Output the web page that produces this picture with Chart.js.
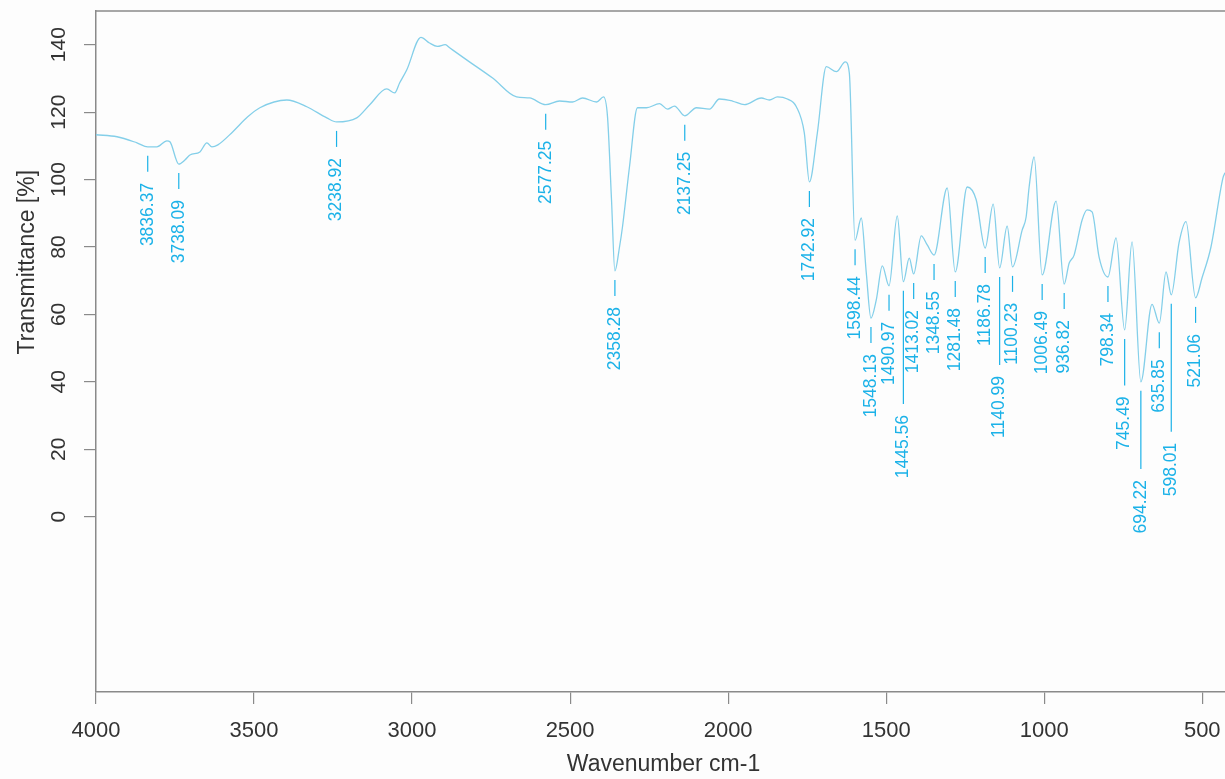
<!DOCTYPE html>
<html>
<head>
<meta charset="utf-8">
<script src="https://cdn.jsdelivr.net/npm/chart.js@4.4.1/dist/chart.umd.min.js"></script>
<style>
  html, body { margin: 0; padding: 0; background: #fdfdfd; }
  #wrap { width: 1225px; height: 779px; }
</style>
</head>
<body>
<div id="wrap"><canvas id="c" width="1225" height="779"></canvas></div>
<script>
// ---- data ----
const wavenumbers = [
  4000, 3933.6, 3870.4, 3836.37, 3807.2, 3775.6, 3766.1, 3738.09, 3718.7, 3702.9,
  3671.3, 3649.1, 3633.3, 3614.4, 3567.0, 3520, 3481.6, 3396.3, 3333.0, 3269.8,
  3238.92, 3175.0, 3133.9, 3080.2, 3054.9, 3039.1, 3017.0, 2972, 2945, 2920,
  2895, 2880, 2827.3, 2745.1, 2669.3, 2628.2, 2577.25, 2533.3, 2492.2, 2460.6,
  2416.3, 2394.2, 2381.6, 2369.0, 2358.28, 2343.7, 2334.2, 2312.1, 2286.8, 2258.3,
  2217.2, 2191.9, 2169.8, 2137.25, 2100.3, 2059.2, 2027.6, 1986.5, 1948.5, 1894.8,
  1869.5, 1844.2, 1812.6, 1784.2, 1758.9, 1742.92, 1717.8, 1689.4, 1657.7, 1629.3,
  1616.6, 1598.44, 1578.7, 1562.9, 1548.13, 1531.3, 1512.3, 1490.97, 1464.9, 1445.56,
  1427.0, 1413.02, 1389.0, 1370.1, 1348.55, 1306.9, 1281.48, 1243.6, 1215.2, 1186.78,
  1161.4, 1140.99, 1117.2, 1100.23, 1069.8, 1057.2, 1047.7, 1031.9, 1006.49, 962.3,
  936.82, 921.2, 905.4, 880.1, 864.3, 848.5, 826.4, 798.34, 772.7, 745.49,
  722.1, 694.22, 658.9, 635.85, 614.6, 598.01, 573.5, 551.4, 521.06, 500.8,
  472.4, 434.4, 428
];
const transmittance = [
  113.3, 112.7, 110.9, 109.7, 109.7, 111.5, 111.2, 104.6, 105.8, 107.3,
  108.2, 110.9, 109.7, 110.3, 114.2, 118.6, 121.3, 123.6, 121.6, 118.3,
  117.1, 118.3, 122.2, 126.9, 125.7, 128.7, 132.5, 142.2, 140.5, 139.5,
  140.0, 139.0, 135.5, 130.1, 124.5, 124.2, 122.2, 123.3, 123.0, 124.2,
  123.0, 124.5, 118.6, 94.0, 72.9, 80.0, 86.0, 103.8, 121.3, 121.3,
  122.5, 120.9, 121.8, 118.9, 121.3, 120.9, 123.9, 123.3, 122.2, 124.2,
  123.6, 124.5, 123.9, 121.6, 113.8, 99.3, 113.8, 133.5, 132.0, 134.9,
  131.6, 82.0, 88.6, 72.3, 58.9, 64.3, 74.4, 68.5, 89.2, 69.7,
  76.7, 72.0, 83.3, 80.6, 77.6, 97.5, 72.6, 97.8, 94.0, 79.7,
  92.7, 73.8, 86.2, 74.1, 85.0, 88.9, 97.8, 106.7, 71.7, 93.6,
  69.0, 75.2, 77.6, 88.0, 91.0, 90.4, 77.0, 71.1, 82.7, 55.4,
  81.5, 40.0, 63.0, 57.4, 72.6, 65.8, 81.2, 87.5, 64.9, 70.8,
  80.0, 100.5, 102.0
];
const peakWavenumbers = [
  3836.37, 3738.09, 3238.92, 2577.25, 2358.28, 2137.25, 1742.92, 1598.44, 1548.13,
  1490.97, 1445.56, 1413.02, 1348.55, 1281.48, 1186.78, 1140.99, 1100.23, 1006.49,
  936.82, 798.34, 745.49, 694.22, 635.85, 598.01, 521.06
];
const xTickValues = [4000, 3500, 3000, 2500, 2000, 1500, 1000, 500];
const yTickValues = [0, 20, 40, 60, 80, 100, 120, 140];
const xTitle = 'Wavenumber cm-1';
const yTitle = 'Transmittance [%]';

// ---- styling ----
const FONT = '"Liberation Sans", Arial, Helvetica, sans-serif';
const AXIS_COLOR = '#8a8a8a';
const TEXT_COLOR = '#333333';
const CURVE_COLOR = 'rgb(132, 207, 233)';
const PEAK_COLOR = 'rgb(28, 178, 232)';
const PEAK_FONT_SIZE = 17.5;

const points = wavenumbers.map((w, i) => ({ x: w, y: transmittance[i] }));
function valueAt(w) {
  const i = wavenumbers.indexOf(w);
  return transmittance[i];
}

const bgPlugin = {
  id: 'bg',
  beforeDraw(chart) {
    const ctx = chart.ctx;
    ctx.save();
    ctx.fillStyle = '#fdfdfd';
    ctx.fillRect(0, 0, chart.width, chart.height);
    ctx.restore();
  }
};

const framePlugin = {
  id: 'frame',
  afterDraw(chart) {
    const { ctx, chartArea, scales } = chart;
    ctx.save();
    // top border
    ctx.strokeStyle = AXIS_COLOR;
    ctx.lineWidth = 1.5;
    ctx.beginPath();
    ctx.moveTo(chartArea.left, chartArea.top);
    ctx.lineTo(chart.width, chartArea.top);
    ctx.stroke();
    // y tick labels (rotated)
    ctx.fillStyle = TEXT_COLOR;
    ctx.font = '21px ' + FONT;
    ctx.textAlign = 'center';
    ctx.textBaseline = 'middle';
    yTickValues.forEach(v => {
      const y = scales.y.getPixelForValue(v);
      ctx.save();
      ctx.translate(chartArea.left - 37, y);
      ctx.rotate(-Math.PI / 2);
      ctx.fillText(String(v), 0, 0);
      ctx.restore();
    });
    // y title
    ctx.font = '23px ' + FONT;
    ctx.save();
    ctx.translate(chartArea.left - 68, scales.y.getPixelForValue(75.5));
    ctx.rotate(-Math.PI / 2);
    ctx.fillText(yTitle, 0, 0);
    ctx.restore();
    // x title
    ctx.fillText(xTitle, (chartArea.left + chartArea.right) / 2 + 3, chart.height - 14);
    ctx.restore();
  }
};

const peakPlugin = {
  id: 'peaks',
  afterDatasetsDraw(chart) {
    const { ctx, scales } = chart;
    ctx.save();
    ctx.font = PEAK_FONT_SIZE + 'px ' + FONT;
    ctx.fillStyle = PEAK_COLOR;
    ctx.strokeStyle = PEAK_COLOR;
    ctx.lineWidth = 1.2;
    ctx.textAlign = 'right';
    ctx.textBaseline = 'middle';
    const placed = [];
    const sorted = peakWavenumbers.slice().sort((a, b) => b - a);
    sorted.forEach(w => {
      const label = w.toFixed(2);
      const x = scales.x.getPixelForValue(w);
      const yc = scales.y.getPixelForValue(valueAt(w));
      const len = ctx.measureText(label).width;
      let top = yc + 36;
      let moved = true;
      while (moved) {
        moved = false;
        for (const p of placed) {
          if (Math.abs(p.x - x) < PEAK_FONT_SIZE && top < p.bottom + 6 && top + len > p.top - 6) {
            top = p.bottom + 30;
            moved = true;
          }
        }
      }
      ctx.beginPath();
      ctx.moveTo(x, yc + 9);
      ctx.lineTo(x, top - 11);
      ctx.stroke();
      ctx.save();
      ctx.translate(x, top);
      ctx.rotate(-Math.PI / 2);
      ctx.fillText(label, 0, 0);
      ctx.restore();
      placed.push({ x, top, bottom: top + len });
    });
    ctx.restore();
  }
};

new Chart(document.getElementById('c'), {
  type: 'line',
  data: {
    datasets: [{
      data: points,
      borderColor: CURVE_COLOR,
      borderWidth: 1.3,
      pointRadius: 0,
      cubicInterpolationMode: 'monotone',
      fill: false
    }]
  },
  options: {
    responsive: false,
    animation: false,
    devicePixelRatio: 1,
    layout: { padding: { top: 11, left: 0, right: 0, bottom: 0 } },
    plugins: { legend: { display: false }, tooltip: { enabled: false } },
    scales: {
      x: {
        type: 'linear',
        reverse: true,
        min: 428,
        max: 4000,
        afterBuildTicks(s) { s.ticks = xTickValues.map(v => ({ value: v })); },
        afterFit(s) { s.height = 87; s.paddingRight = 0; s.paddingLeft = 0; },
        ticks: {
          font: { size: 22, family: FONT },
          color: TEXT_COLOR,
          padding: 14,
          maxRotation: 0,
          autoSkip: false,
          callback: v => String(v)
        },
        grid: { drawOnChartArea: false, drawTicks: true, tickLength: 12, color: AXIS_COLOR, lineWidth: 1.2 },
        border: { color: AXIS_COLOR, width: 1.5 }
      },
      y: {
        type: 'linear',
        min: -52,
        max: 150,
        afterBuildTicks(s) { s.ticks = yTickValues.map(v => ({ value: v })); },
        afterFit(s) { s.width = 96; },
        ticks: { display: false },
        grid: { drawOnChartArea: false, drawTicks: true, tickLength: 12, color: AXIS_COLOR, lineWidth: 1.2 },
        border: { color: AXIS_COLOR, width: 1.5 }
      }
    }
  },
  plugins: [bgPlugin, peakPlugin, framePlugin]
});
</script>
</body>
</html>
